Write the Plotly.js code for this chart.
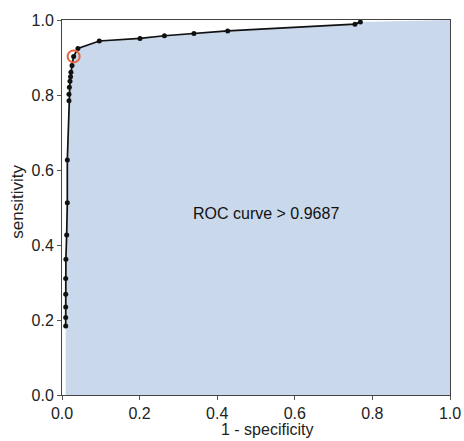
<!DOCTYPE html>
<html>
<head>
<meta charset="utf-8">
<script src="https://cdn.plot.ly/plotly-3.0.1.min.js"></script>
<style>html,body{margin:0;padding:0;background:#fff;}#chart{width:464px;height:441px;}</style>
</head>
<body>
<div id="chart"></div>
<script>
// 1 - specificity (false positive rate)
const fpr = [0.0095, 0.0095, 0.0095, 0.0095, 0.0095, 0.010, 0.012, 0.0137, 0.0137,
             0.018, 0.018, 0.019, 0.0206, 0.022, 0.023, 0.0258, 0.030, 0.041,
             0.096, 0.201, 0.264, 0.340, 0.427, 0.755, 0.769];
// sensitivity (true positive rate)
const tpr = [0.184, 0.207, 0.235, 0.269, 0.311, 0.362, 0.427, 0.513, 0.627,
             0.785, 0.802, 0.821, 0.837, 0.849, 0.861, 0.879, 0.903, 0.924,
             0.944, 0.951, 0.958, 0.964, 0.971, 0.989, 0.995];
// highlighted cut-off point
const cutX = [0.030];
const cutY = [0.903];
const tickVals = [0.0, 0.2, 0.4, 0.6, 0.8, 1.0];
const tickText = ["0.0", "0.2", "0.4", "0.6", "0.8", "1.0"];
const aucLabel = "ROC curve > 0.9687";
const xTitle = "1 - specificity";
const yTitle = "sensitivity";
const axisMax = 1.0;

const fillX = fpr.concat([axisMax]);
const fillY = tpr.concat([axisMax]);

const FONT = 'Liberation Sans, Arial, sans-serif';

const traces = [
  {x: fillX, y: fillY, type: 'scatter', mode: 'none', fill: 'tozeroy',
   fillcolor: '#c9d8eb', hoverinfo: 'skip', showlegend: false},
  {x: fpr, y: tpr, type: 'scatter', mode: 'lines+markers',
   line: {color: '#111111', width: 1.7},
   marker: {color: '#111111', size: 5}, showlegend: false, cliponaxis: false},
  {x: cutX, y: cutY, type: 'scatter', mode: 'markers',
   marker: {symbol: 'circle-open', size: 12, color: '#e8623e', line: {width: 2, color: '#e8623e'}},
   showlegend: false, cliponaxis: false}
];

const axisCommon = {
  range: [0, 1], tickvals: tickVals, ticktext: tickText,
  ticks: 'outside', ticklen: 4, tickwidth: 1, tickcolor: '#555',
  showline: true, linecolor: '#444', linewidth: 1, mirror: true,
  showgrid: false, zeroline: false,
  tickfont: {family: FONT, size: 16, color: '#222'}
};

const layout = {
  width: 464, height: 441,
  margin: {l: 62, r: 14, t: 20, b: 46},
  paper_bgcolor: '#ffffff', plot_bgcolor: '#ffffff',
  xaxis: Object.assign({}, axisCommon),
  yaxis: Object.assign({}, axisCommon),
  annotations: [
    {x: 0.526, y: 0.483, xref: 'x', yref: 'y', text: aucLabel, showarrow: false,
     font: {family: FONT, size: 16, color: '#111'}},
    {x: 0.528, y: -0.093, xref: 'x', yref: 'paper', text: xTitle, showarrow: false,
     xanchor: 'center', yanchor: 'middle',
     font: {family: FONT, size: 16, color: '#222'}},
    {x: -0.114, y: 0.515, xref: 'paper', yref: 'y', text: yTitle, showarrow: false,
     textangle: -90, xanchor: 'center', yanchor: 'middle',
     font: {family: FONT, size: 17, color: '#222'}}
  ]
};

Plotly.newPlot('chart', traces, layout, {staticPlot: true, displayModeBar: false});
</script>
</body>
</html>
